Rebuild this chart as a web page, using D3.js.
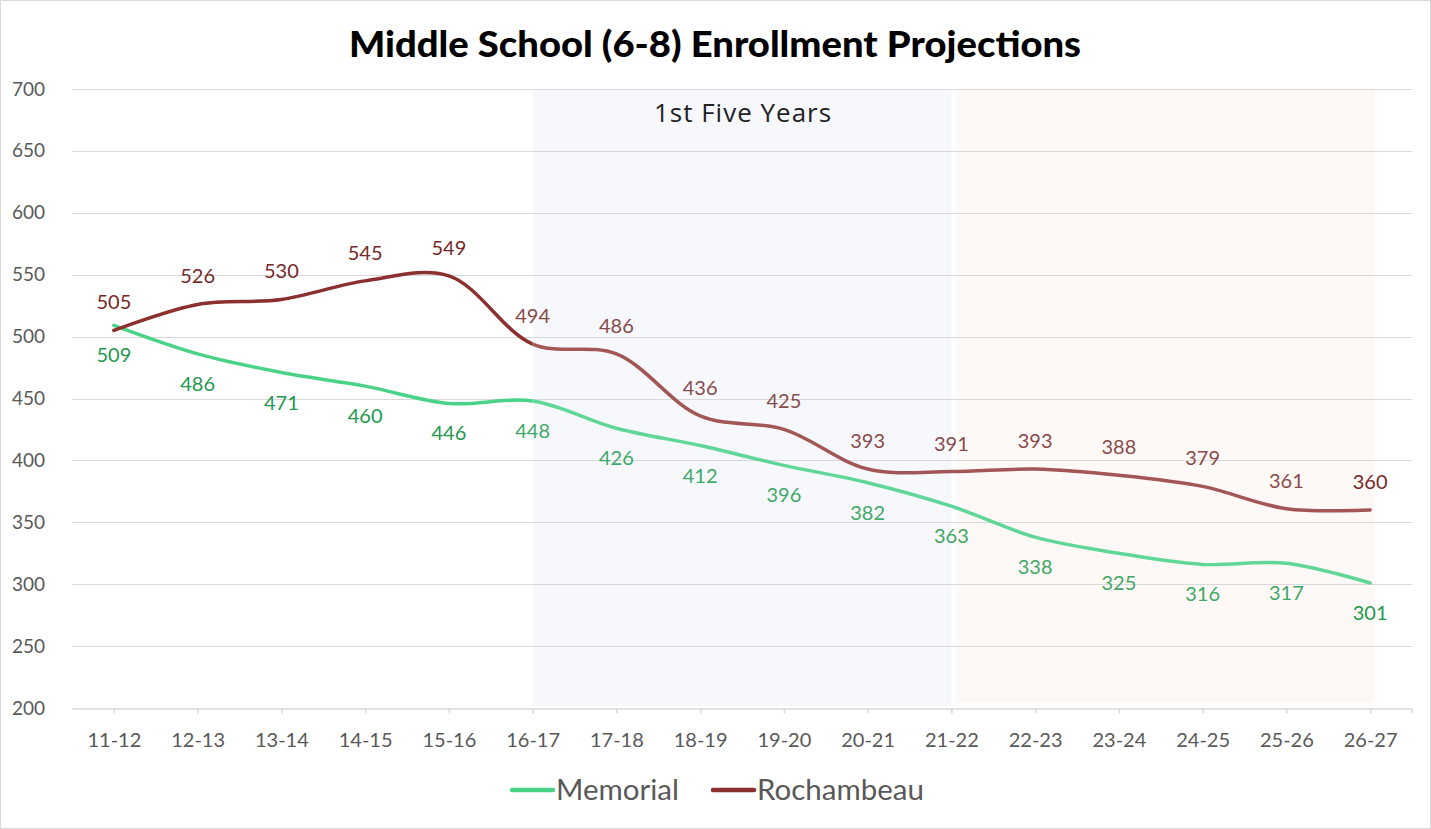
<!DOCTYPE html>
<html>
<head>
<meta charset="utf-8">
<script src="https://cdn.jsdelivr.net/npm/d3@7"></script>
<style>
  body { margin: 0; background: #fff; }
  svg { display: block; }
</style>
</head>
<body>
<div id="chart"></div>
<script>
// chart values
const years = ["11-12", "12-13", "13-14", "14-15", "15-16", "16-17", "17-18", "18-19",
               "19-20", "20-21", "21-22", "22-23", "23-24", "24-25", "25-26", "26-27"];
const memorial = [509, 486, 471, 460, 446, 448, 426, 412, 396, 382, 363, 338, 325, 316, 317, 301];
const rochambeau = [505, 526, 530, 545, 549, 494, 486, 436, 425, 393, 391, 393, 388, 379, 361, 360];
const yTicks = [200, 250, 300, 350, 400, 450, 500, 550, 600, 650, 700];
const bandSpans = [["16-17", "21-22", "1st Five Years"], ["21-22", "26-27", ""]];
const projectionStart = "16-17";

const W = 1431, H = 829;

const svg = d3.select("#chart").append("svg")
    .attr("width", W)
    .attr("height", H);

// outer border
svg.append("rect")
    .attr("x", 0.5).attr("y", 0.5)
    .attr("width", W - 1).attr("height", H - 1)
    .attr("fill", "#fff")
    .attr("stroke", "#d9d9d9");

const x = d3.scalePoint()
    .domain(years)
    .range([72, 1412])
    .padding(0.5);

const y = d3.scaleLinear()
    .domain([200, 700])
    .range([708, 89]);

// background bands
const bandFill = ["#f6f8fc", "#fef9f6"];
const bandShift = [0, 5];
const bandBottom = [706, 703];
bandSpans.forEach(function (b, i) {
    svg.append("rect")
        .attr("x", x(b[0]) + bandShift[i])
        .attr("y", y(700))
        .attr("width", x(b[1]) - x(b[0]))
        .attr("height", bandBottom[i] - y(700))
        .attr("fill", bandFill[i]);
    if (b[2]) {
        svg.append("text")
            .attr("x", (x(b[0]) + x(b[1])) / 2 + 1)
            .attr("y", 113)
            .attr("dy", "0.35em")
            .attr("text-anchor", "middle")
            .attr("font-family", "'Open Sans', sans-serif")
            .attr("font-size", 26)
            .attr("letter-spacing", 1)
            .attr("fill", "#222")
            .text(b[2]);
    }
});

// gridlines
svg.append("g")
    .selectAll("line")
    .data(yTicks.slice(1))
    .enter()
    .append("line")
    .attr("x1", 72).attr("x2", 1412)
    .attr("y1", d => Math.round(y(d)) + 0.5)
    .attr("y2", d => Math.round(y(d)) + 0.5)
    .attr("stroke", "#d9d9d9")
    .attr("stroke-width", 1);

// y axis labels
const yAxis = svg.append("g")
    .attr("transform", "translate(72,0)")
    .call(d3.axisLeft(y).tickValues(yTicks).tickSize(0).tickPadding(27));
yAxis.select(".domain").remove();
yAxis.selectAll("text")
    .attr("font-family", "Lato, sans-serif")
    .attr("font-size", 19)
    .attr("fill", "#595959");

// x axis
const xAxis = svg.append("g")
    .attr("transform", "translate(0," + (Math.round(y(200)) + 0.5) + ")")
    .call(d3.axisBottom(x).tickSize(5).tickSizeOuter(0));
xAxis.select(".domain").attr("stroke", "#d9d9d9").attr("stroke-width", 1.5);
xAxis.selectAll(".tick line").attr("stroke", "#d9d9d9").attr("stroke-width", 1.5);
xAxis.append("line")
    .attr("x1", 1412).attr("x2", 1412)
    .attr("y1", 0).attr("y2", 5)
    .attr("stroke", "#d9d9d9").attr("stroke-width", 1.5);
xAxis.selectAll("text")
    .attr("y", 31)
    .attr("dy", "0.35em")
    .attr("font-family", "Lato, sans-serif")
    .attr("font-size", 20)
    .attr("fill", "#595959");

// clip regions for actual vs projected segments
const defs = svg.append("defs");
defs.append("clipPath").attr("id", "clipEarly")
    .append("rect")
    .attr("x", 0).attr("y", 0)
    .attr("width", x(projectionStart)).attr("height", H);
defs.append("clipPath").attr("id", "clipLate")
    .append("rect")
    .attr("x", x(projectionStart)).attr("y", 0)
    .attr("width", W - x(projectionStart)).attr("height", H);

const line = d3.line()
    .x((d, i) => x(years[i]))
    .y(d => y(d))
    .curve(d3.curveCatmullRom.alpha(0.5));

const series = [
    { values: memorial, early: "#4ad387", late: "#61d699", lblEarly: "#23994f", lblLate: "#3fa868", offset: 30 },
    { values: rochambeau, early: "#8c2f2f", late: "#a35656", lblEarly: "#772828", lblLate: "#8a4a4a", offset: -28 }
];

series.forEach(function (s) {
    svg.append("path")
        .datum(s.values)
        .attr("d", line)
        .attr("fill", "none")
        .attr("stroke", s.early)
        .attr("stroke-width", 3.5)
        .attr("stroke-linecap", "round")
        .attr("clip-path", "url(#clipEarly)");
    svg.append("path")
        .datum(s.values)
        .attr("d", line)
        .attr("fill", "none")
        .attr("stroke", s.late)
        .attr("stroke-width", 3.5)
        .attr("stroke-linecap", "round")
        .attr("clip-path", "url(#clipLate)");
});

// data labels
series.forEach(function (s) {
    const n = s.values.length;
    svg.append("g")
        .selectAll("text")
        .data(s.values)
        .enter()
        .append("text")
        .attr("x", (d, i) => x(years[i]))
        .attr("y", d => y(d) + s.offset)
        .attr("dy", "0.35em")
        .attr("text-anchor", "middle")
        .attr("font-family", "Lato, sans-serif")
        .attr("font-size", 20)
        .attr("fill", (d, i) => (i < 5 || i === n - 1) ? s.lblEarly : s.lblLate)
        .text(d => d);
});

// title
svg.append("text")
    .attr("x", 715)
    .attr("y", 44)
    .attr("dy", "0.35em")
    .attr("text-anchor", "middle")
    .attr("font-family", "Lato, sans-serif")
    .attr("font-weight", "900")
    .attr("font-size", 36)
    .attr("textLength", 732)
    .attr("lengthAdjust", "spacingAndGlyphs")
    .attr("fill", "#000")
    .text("Middle School (6-8) Enrollment Projections");

// legend
const legendItems = [["Memorial", "#4ad387", 512], ["Rochambeau", "#8c2f2f", 713]];
const legend = svg.append("g");
legendItems.forEach(function (it) {
    legend.append("line")
        .attr("x1", it[2]).attr("x2", it[2] + 41)
        .attr("y1", 790).attr("y2", 790)
        .attr("stroke", it[1])
        .attr("stroke-width", 4.5)
        .attr("stroke-linecap", "round");
    legend.append("text")
        .attr("x", it[2] + 44)
        .attr("y", 790)
        .attr("dy", "0.35em")
        .attr("font-family", "Lato, sans-serif")
        .attr("font-size", 29.5)
        .attr("fill", "#595959")
        .text(it[0]);
});
</script>
</body>
</html>
